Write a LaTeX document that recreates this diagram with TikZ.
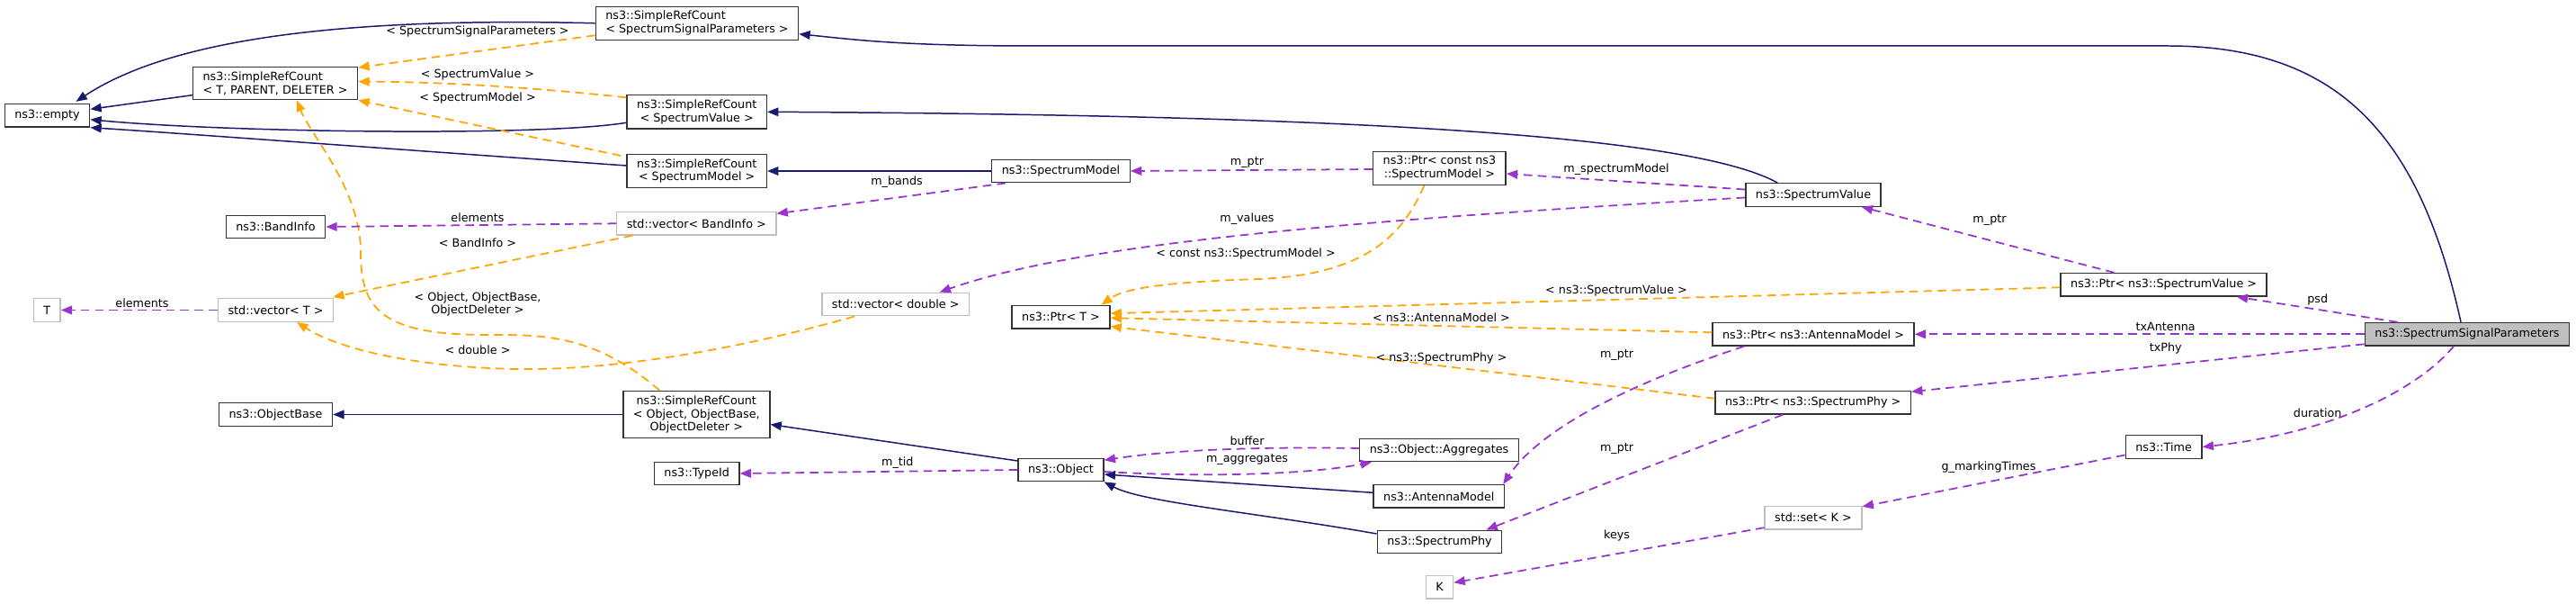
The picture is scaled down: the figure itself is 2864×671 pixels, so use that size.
\documentclass[tikz,border=0pt]{standalone}
\usepackage{fontspec}
\setmainfont{DejaVu Sans}
\usetikzlibrary{arrows.meta,calc}
\definecolor{inhcol}{HTML}{191970}
\definecolor{usecol}{HTML}{9A32CD}
\definecolor{tplcol}{HTML}{FFA500}
\definecolor{boxgray}{HTML}{BFBFBF}
\begin{document}
\begin{tikzpicture}[
    x=0.02cm, y=-0.02cm,
    font=\fontsize{7.25}{8.5}\selectfont,
    cls/.style={draw=black!80, line width=0.8pt, fill=white, inner xsep=6.3pt,
                inner ysep=2.8pt, minimum height=14.5pt, align=center},
    ext/.style={cls, draw=boxgray},
    cur/.style={cls, fill=boxgray},
    inh/.style={-{Triangle[length=7pt,width=5.5pt]}, draw=inhcol, line width=0.85pt},
    use/.style={-{Triangle[length=7pt,width=5.5pt]}, draw=usecol, line width=1pt,
                dash pattern=on 5.5pt off 3.5pt},
    tpl/.style={-{Triangle[length=7pt,width=5.5pt]}, draw=tplcol, line width=1pt,
                dash pattern=on 5.5pt off 3.5pt},
    lbl/.style={inner sep=0pt, align=center},
  ]
    \useasboundingbox (0,0) rectangle (2864,671);

    % classes
    \node[cls] (empty)   at (52.5,128.3) {ns3::empty};
    \node[cls, align=left] (srcTPD) at (306,92.7) {ns3::SimpleRefCount\\< T, PARENT, DELETER >};
    \node[cls, align=left] (srcSSP) at (775,25.8) {ns3::SimpleRefCount\\< SpectrumSignalParameters >};
    \node[cls] (srcSV)   at (774.7,124.3) {ns3::SimpleRefCount\\< SpectrumValue >};
    \node[cls] (srcSM)   at (774.7,190) {ns3::SimpleRefCount\\< SpectrumModel >};
    \node[cls] (bandInfo) at (306.5,252) {ns3::BandInfo};
    \node[ext] (vecBand) at (774.3,248.3) {std::vector< BandInfo >};
    \node[ext] (tT)      at (52.2,344.5) {T};
    \node[ext] (vecT)    at (306.5,344.5) {std::vector< T >};
    \node[cls] (objBase) at (306.5,460.5) {ns3::ObjectBase};
    \node[cls] (srcObj)  at (774.3,460.5) {ns3::SimpleRefCount\\< Object, ObjectBase,\\ObjectDeleter >};
    \node[cls] (typeId)  at (774.7,526) {ns3::TypeId};
    \node[ext] (vecDbl)  at (995.7,338) {std::vector< double >};
    \node[cls] (specModel) at (1179.5,190) {ns3::SpectrumModel};
    \node[cls] (ptrT)    at (1179.5,352.2) {ns3::Ptr< T >};
    \node[cls] (object)  at (1179.5,522) {ns3::Object};
    \node[cls] (ptrSM)   at (1600.4,187) {ns3::Ptr< const ns3\\::SpectrumModel >};
    \node[cls] (aggr)    at (1600,500) {ns3::Object::Aggregates};
    \node[cls] (antModel) at (1599.8,551.3) {ns3::AntennaModel};
    \node[cls] (specPhy) at (1600.5,602) {ns3::SpectrumPhy};
    \node[ext] (kK)      at (1600.5,652.3) {K};
    \node[cls] (specVal) at (2016,216.5) {ns3::SpectrumValue};
    \node[cls] (ptrAnt)  at (2016,371.3) {ns3::Ptr< ns3::AntennaModel >};
    \node[cls] (ptrPhy)  at (2015.7,447.2) {ns3::Ptr< ns3::SpectrumPhy >};
    \node[ext] (setK)    at (2016,575.2) {std::set< K >};
    \node[cls] (ptrSV)   at (2405.6,316.3) {ns3::Ptr< ns3::SpectrumValue >};
    \node[cls] (time)    at (2405.6,496.5) {ns3::Time};
    \node[cur] (ssp)     at (2743,371.3) {ns3::SpectrumSignalParameters};

    % inheritance
    \draw[inh] (srcSSP.west) .. controls (350,18) and (180,50) .. ($(empty.north)+(32,-2)$);
    \draw[inh] ($(srcTPD.west)+(0,13)$) -- ($(empty.east)+(0,-7)$);
    \draw[inh] ($(srcSV.west)+(0,12)$) .. controls (600,152) and (250,147) .. ($(empty.east)+(0,4.5)$);
    \draw[inh] ($(srcSM.west)+(0,-6)$) .. controls (400,163) and (200,148) .. (empty.south east);
    \draw[inh] ($(ssp.north)+(-7,0)$) .. controls (2690,150) and (2600,51) .. (2410,51)
      -- (1150,51) .. controls (1000,51) and (950,44) .. ($(srcSSP.east)+(0,12)$);
    \draw[inh] ($(specVal.north west)+(36,0)$) .. controls (1880,150) and (1500,128) .. (srcSV.east);
    \draw[inh] (specModel.west) -- (srcSM.east);
    \draw[inh] (srcObj.west) -- (objBase.east);
    \draw[inh] ($(object.west)+(0,-10)$) -- ($(srcObj.east)+(0,11)$);
    \draw[inh] ($(antModel.west)+(0,-4)$) -- ($(object.east)+(0,5)$);
    \draw[inh] ($(specPhy.west)+(0,-9)$) .. controls (1400,570) and (1270,558) .. (object.south east);

    % template instances
    \draw[tpl] ($(srcSSP.west)+(0,13.5)$) -- ($(srcTPD.north east)+(0,1)$)
      node[lbl] at (531,35) {< SpectrumSignalParameters >};
    \draw[tpl] ($(srcSV.west)+(0,-16)$) .. controls (600,98) and (500,91) .. ($(srcTPD.east)+(0,-2)$)
      node[lbl] at (531,82.7) {< SpectrumValue >};
    \draw[tpl] ($(srcSM.west)+(-6,-17)$) -- (srcTPD.south east)
      node[lbl] at (531,109.3) {< SpectrumModel >};
    \draw[tpl] ($(srcObj.north)+(-41,0)$) .. controls (660,370) and (600,372) .. (540,372)
      .. controls (420,372) and (401,340) .. (401,280)
      .. controls (401,210) and (345,150) .. ($(srcTPD.south)+(24,0)$)
      node[lbl] at (531,338) {< Object, ObjectBase,\\ObjectDeleter >};
    \draw[tpl] ($(vecBand.south west)+(18,0)$) -- ($(vecT.north east)+(-1,-1)$)
      node[lbl] at (531,269.3) {< BandInfo >};
    \draw[tpl] ($(vecDbl.south west)+(37,0)$) .. controls (850,380) and (700,412) .. (574,410)
      .. controls (470,408) and (380,390) .. ($(vecT.south)+(23.5,0)$)
      node[lbl] at (531,388.3) {< double >};
    \draw[tpl] ($(ptrSM.south)+(-17,0)$) .. controls (1560,260) and (1520,305) .. (1400,310)
      .. controls (1300,313) and (1250,320) .. ($(ptrT.north east)+(-10,0)$)
      node[lbl] at (1385,281.7) {< const ns3::SpectrumModel >};
    \draw[tpl] ($(ptrSV.west)+(0,3)$) -- ($(ptrT.east)+(0,-4)$)
      node[lbl] at (1797,322.7) {< ns3::SpectrumValue >};
    \draw[tpl] ($(ptrAnt.west)+(0,-2)$) -- ($(ptrT.east)+(0,1)$)
      node[lbl] at (1602.5,352.7) {< ns3::AntennaModel >};
    \draw[tpl] ($(ptrPhy.west)+(0,-4.5)$) -- ($(ptrT.south east)+(0,-3)$)
      node[lbl] at (1602.5,397.7) {< ns3::SpectrumPhy >};

    % members
    \draw[use] (vecBand.west) -- (bandInfo.east)
      node[lbl] at (531,241.7) {elements};
    \draw[use] (vecT.west) -- (tT.east)
      node[lbl] at (158,336.7) {elements};
    \draw[use] ($(specModel.south west)+(16,0)$) -- ($(vecBand.east)+(0,-11)$)
      node[lbl] at (997,201.7) {m\_bands};
    \draw[use] ($(ptrSM.west)+(0,1)$) -- (specModel.east)
      node[lbl] at (1386.5,181) {m\_ptr};
    \draw[use] ($(specVal.west)+(0,-6)$) -- ($(ptrSM.east)+(0,6)$)
      node[lbl] at (1797,188.3) {m\_spectrumModel};
    \draw[use] ($(specVal.west)+(0,3)$) .. controls (1500,245) and (1200,270) .. ($(vecDbl.north)+(49,0)$)
      node[lbl] at (1386.5,243.3) {m\_values};
    \draw[use] ($(ptrSV.north)+(-55,0)$) -- ($(specVal.south east)+(-22,0)$)
      node[lbl] at (2212,245) {m\_ptr};
    \draw[use] ($(ssp.north west)+(37,0)$) -- ($(ptrSV.south east)+(-34,0)$)
      node[lbl] at (2576.7,333.3) {psd};
    \draw[use] (ssp.west) -- (ptrAnt.east)
      node[lbl] at (2407.7,362.7) {txAntenna};
    \draw[use] ($(ssp.west)+(0,11)$) -- ($(ptrPhy.east)+(0,-12)$)
      node[lbl] at (2407.7,386.7) {txPhy};
    \draw[use] ($(ssp.south)+(-15,0)$) .. controls (2690,430) and (2600,480) .. (time.east)
      node[lbl] at (2576.7,458.3) {duration};
    \draw[use] ($(time.west)+(0,9)$) -- ($(setK.north east)+(0,1)$)
      node[lbl] at (2211,519.3) {g\_markingTimes};
    \draw[use] ($(setK.west)+(0,11)$) -- ($(kK.east)+(0,-5)$)
      node[lbl] at (1797.6,595) {keys};
    \draw[use] ($(ptrAnt.south west)+(36,0)$) .. controls (1800,430) and (1710,480) .. ($(antModel.north east)+(-2,0)$)
      node[lbl] at (1797.6,395) {m\_ptr};
    \draw[use] ($(ptrPhy.south west)+(76,0)$) -- ($(specPhy.north east)+(-18,0)$)
      node[lbl] at (1797.6,498.3) {m\_ptr};
    \draw[use] (object.west) -- (typeId.east)
      node[lbl] at (997.8,514) {m\_tid};
    \draw[use] ($(aggr.west)+(0,-2)$) .. controls (1400,496) and (1300,500) .. ($(object.north east)+(0,2.7)$)
      node[lbl] at (1386.5,489.3) {buffer};
    \draw[use] ($(object.east)+(0,2)$) .. controls (1330,530) and (1450,528) .. ($(aggr.south west)+(14,0)$)
      node[lbl] at (1386.5,511) {m\_aggregates};
\end{tikzpicture}
\end{document}
